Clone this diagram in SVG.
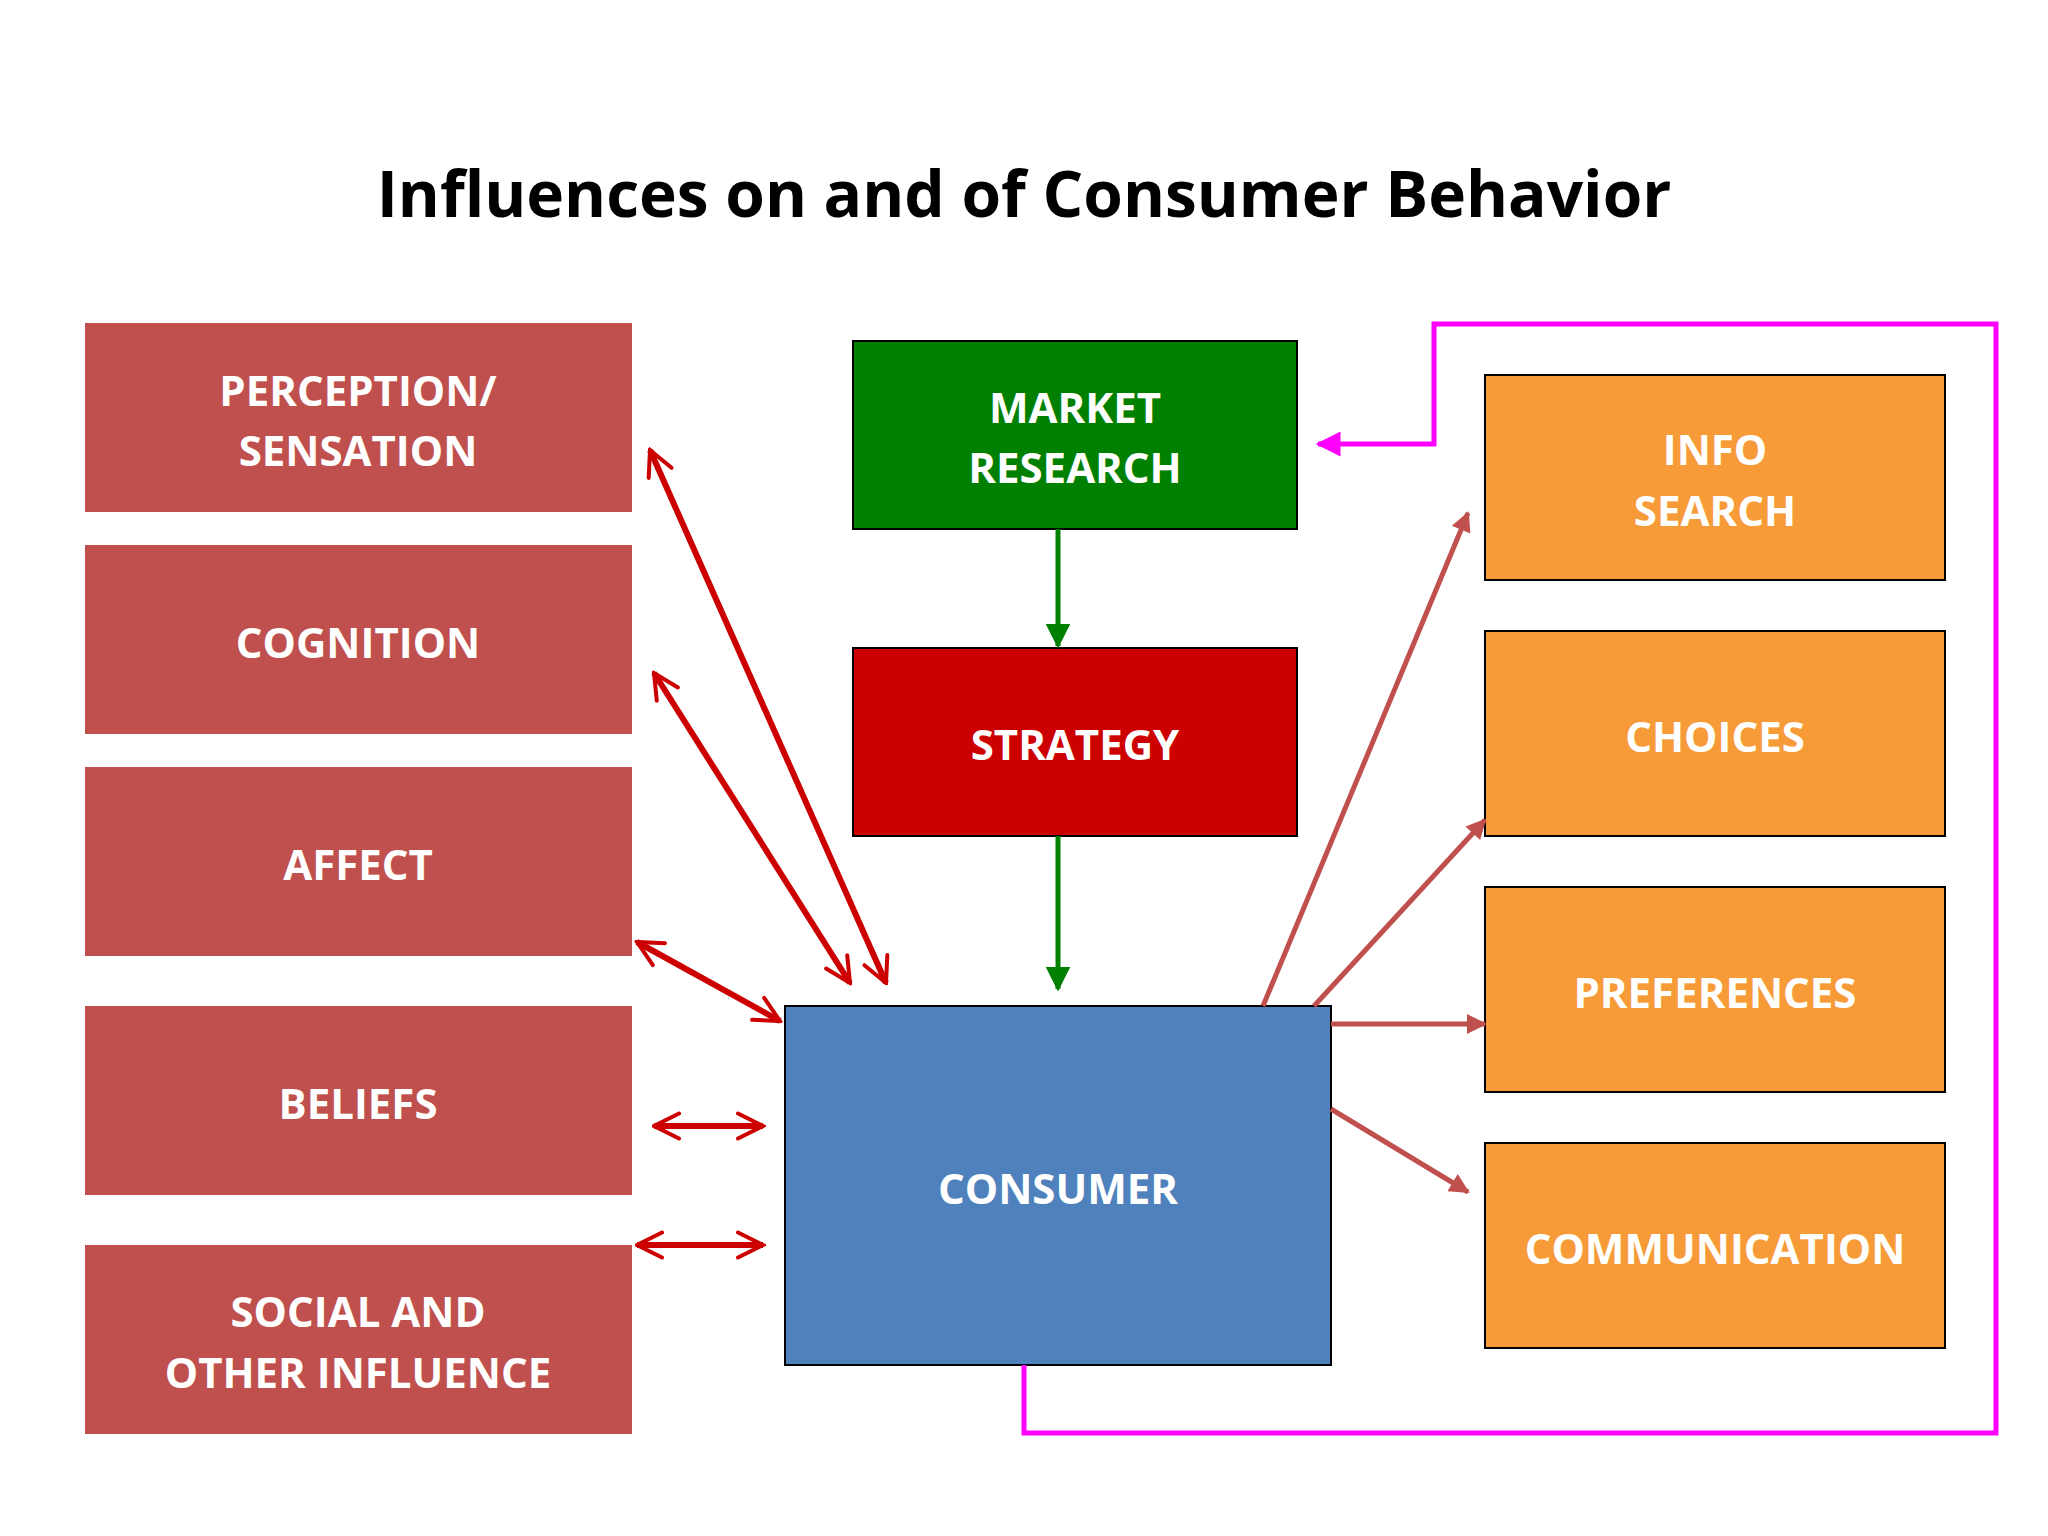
<svg xmlns="http://www.w3.org/2000/svg" width="2048" height="1536" viewBox="0 0 2048 1536">
<defs>
<style>
.t{font-family:"Open Sans","Liberation Sans",sans-serif;font-weight:bold;fill:#fff;text-anchor:middle;dominant-baseline:central}
.l{font-size:42px}
.r{font-size:42px}
.red{stroke:#CC0000;stroke-width:6;fill:none;marker-start:url(#ch);marker-end:url(#ch)}
.br{stroke:#C0504D;stroke-width:5;fill:none;marker-end:url(#fh)}
.gr{stroke:#008000;stroke-width:5;fill:none;marker-end:url(#gh)}
</style>
<marker id="ch" viewBox="0 0 12 12" refX="11" refY="6" markerWidth="5" markerHeight="5" orient="auto-start-reverse" markerUnits="strokeWidth"><path d="M1,1 L11,6 L1,11" fill="none" stroke="#CC0000" stroke-width="1.6" stroke-linecap="round"/></marker>
<marker id="fh" viewBox="0 0 10 10" refX="9" refY="5" markerWidth="5" markerHeight="4" orient="auto" markerUnits="strokeWidth"><path d="M0,0 L10,5 L0,10 Z" fill="#C0504D"/></marker>
<marker id="gh" viewBox="0 0 10 10" refX="9" refY="5" markerWidth="5" markerHeight="5" orient="auto" markerUnits="strokeWidth"><path d="M0,0 L10,5 L0,10 Z" fill="#008000"/></marker>
<marker id="mh" viewBox="0 0 10 10" refX="9" refY="5" markerWidth="5" markerHeight="5" orient="auto" markerUnits="strokeWidth"><path d="M0,0 L10,5 L0,10 Z" fill="#FF00FF"/></marker>
</defs>
<rect width="2048" height="1536" fill="#fff"/>
<text x="1024" y="192" font-family="'Open Sans','Liberation Sans',sans-serif" font-weight="bold" font-size="64" text-anchor="middle" dominant-baseline="central" fill="#000">Influences on and of Consumer Behavior</text>

<g id="perception"><rect x="85" y="323" width="547" height="189" fill="#C0504D"/><text class="t l" x="358" y="389">PERCEPTION/</text><text class="t l" x="358" y="449">SENSATION</text></g>
<g id="cognition"><rect x="85" y="545" width="547" height="189" fill="#C0504D"/><text class="t l" x="358" y="641">COGNITION</text></g>
<g id="affect"><rect x="85" y="767" width="547" height="189" fill="#C0504D"/><text class="t l" x="358" y="863">AFFECT</text></g>
<g id="beliefs"><rect x="85" y="1006" width="547" height="189" fill="#C0504D"/><text class="t l" x="358" y="1102">BELIEFS</text></g>
<g id="social"><rect x="85" y="1245" width="547" height="189" fill="#C0504D"/><text class="t l" x="358" y="1310">SOCIAL AND</text><text class="t l" x="358" y="1371">OTHER INFLUENCE</text></g>

<g id="market"><rect x="853" y="341" width="444" height="188" fill="#008000" stroke="#000" stroke-width="2"/><text class="t l" x="1075" y="406">MARKET</text><text class="t l" x="1075" y="466">RESEARCH</text></g>
<g id="strategy"><rect x="853" y="648" width="444" height="188" fill="#CC0000" stroke="#000" stroke-width="2"/><text class="t l" x="1075" y="743">STRATEGY</text></g>
<g id="consumer"><rect x="785" y="1006" width="546" height="359" fill="#4F81BD" stroke="#000" stroke-width="2"/><text class="t l" x="1058" y="1187">CONSUMER</text></g>

<g id="info"><rect x="1485" y="375" width="460" height="205" fill="#F79A38" stroke="#000" stroke-width="2"/><text class="t r" x="1715" y="448">INFO</text><text class="t r" x="1715" y="509">SEARCH</text></g>
<g id="choices"><rect x="1485" y="631" width="460" height="205" fill="#F79A38" stroke="#000" stroke-width="2"/><text class="t r" x="1715" y="735">CHOICES</text></g>
<g id="preferences"><rect x="1485" y="887" width="460" height="205" fill="#F79A38" stroke="#000" stroke-width="2"/><text class="t r" x="1715" y="991">PREFERENCES</text></g>
<g id="communication"><rect x="1485" y="1143" width="460" height="205" fill="#F79A38" stroke="#000" stroke-width="2"/><text class="t r" x="1715" y="1247">COMMUNICATION</text></g>

<g id="connectors">
<line class="gr" x1="1058" y1="529" x2="1058" y2="646"/>
<line class="gr" x1="1058" y1="836" x2="1058" y2="989"/>
<line class="red" x1="650" y1="450" x2="886" y2="983"/>
<line class="red" x1="654" y1="673" x2="850" y2="983"/>
<line class="red" x1="637" y1="942" x2="780" y2="1021"/>
<line class="red" x1="654" y1="1126" x2="763" y2="1126"/>
<line class="red" x1="637" y1="1245" x2="763" y2="1245"/>
<line class="br" x1="1263" y1="1006" x2="1468" y2="513"/>
<line class="br" x1="1314" y1="1006" x2="1485" y2="820"/>
<line class="br" x1="1331" y1="1024" x2="1485" y2="1024"/>
<line class="br" x1="1331" y1="1109" x2="1468" y2="1192"/>
<path d="M1024,1365 L1024,1433 L1996,1433 L1996,324 L1434,324 L1434,444 L1318,444" fill="none" stroke="#FF00FF" stroke-width="5" marker-end="url(#mh)"/>
</g>
</svg>
